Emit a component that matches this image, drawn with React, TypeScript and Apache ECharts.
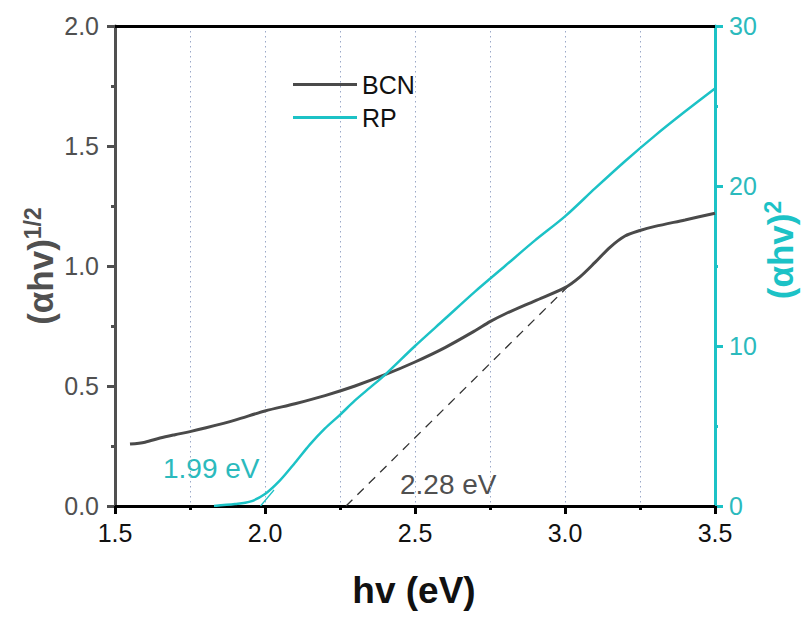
import React, { useEffect, useRef } from "react";
import * as echarts from "echarts";

const bcnEnergy = [1.55, 1.6, 1.65, 1.7, 1.75, 1.8, 1.9, 2.0, 2.1, 2.2, 2.3, 2.4, 2.5, 2.6, 2.7, 2.75, 2.8, 2.9, 3.0, 3.05, 3.1, 3.15, 3.2, 3.25, 3.3, 3.4, 3.5];
const bcnValues = [0.258, 0.266, 0.283, 0.297, 0.31, 0.325, 0.358, 0.396, 0.426, 0.46, 0.5, 0.547, 0.6, 0.66, 0.73, 0.768, 0.8, 0.855, 0.91, 0.955, 1.015, 1.078, 1.125, 1.148, 1.165, 1.192, 1.22];

const rpEnergy = [1.83, 1.9, 1.95, 2.0, 2.05, 2.1, 2.15, 2.2, 2.25, 2.3, 2.35, 2.4, 2.5, 2.6, 2.7, 2.8, 2.9, 3.0, 3.1, 3.2, 3.3, 3.4, 3.5];
const rpValues = [0, 0.12, 0.27, 0.75, 1.6, 2.7, 3.85, 4.85, 5.7, 6.6, 7.4, 8.2, 10.0, 11.7, 13.4, 15.0, 16.6, 18.1, 19.85, 21.55, 23.15, 24.65, 26.1];

const bcnTangentX = [2.27, 3.01];
const bcnTangentY = [0, 0.915];
const rpTangentX = [1.985, 2.03];
const rpTangentY = [0, 1.0];

const seriesNames = ["BCN", "RP"];
const gapLabels = ["1.99 eV", "2.28 eV"];

const CYAN = "#1cc2c6";
const CYAN_TEXT = "#2bbabd";
const GRAY = "#505050";
const GRID = "#9aa8c8";
const FONT = "'Liberation Sans', Arial, sans-serif";

export default function App() {
  const ref = useRef<HTMLDivElement>(null);
  useEffect(() => {
    document.body.style.margin = "0";
    const chart = echarts.init(ref.current!, null, { renderer: "svg" });
    const zip = (xs: number[], ys: number[]) => xs.map((x, i) => [x, ys[i]]);
    chart.setOption({
      animation: false,
      textStyle: { fontFamily: FONT },
      grid: { left: 115, right: 88, top: 26, bottom: 111 },
      legend: {
        data: seriesNames,
        orient: "vertical",
        left: 293,
        top: 72,
        padding: 0,
        icon: "rect",
        itemWidth: 64,
        itemHeight: 3,
        itemGap: 8,
        textStyle: { fontSize: 25, color: "#111", lineHeight: 25, fontFamily: FONT },
      },
      xAxis: [
        {
          type: "value",
          min: 1.5,
          max: 3.5,
          interval: 0.5,
          axisLine: { show: true, onZero: false, lineStyle: { color: "#000", width: 3 } },
          axisTick: { show: true, length: 8, lineStyle: { color: "#000", width: 3 } },
          minorTick: { show: true, splitNumber: 2, length: 4, lineStyle: { color: "#000", width: 3 } },
          axisLabel: { fontSize: 25, color: "#111", margin: 14, formatter: (v: number) => v.toFixed(1) },
          splitLine: { show: true, lineStyle: { color: GRID, type: [1.5, 3.5], width: 1 } },
          minorSplitLine: { show: true, lineStyle: { color: GRID, type: [1.5, 3.5], width: 1 } },
        },
        {
          type: "value",
          position: "top",
          min: 1.5,
          max: 3.5,
          axisLine: { show: true, onZero: false, lineStyle: { color: "#000", width: 3 } },
          axisTick: { show: false },
          axisLabel: { show: false },
          splitLine: { show: false },
        },
      ],
      yAxis: [
        {
          type: "value",
          min: 0,
          max: 2,
          interval: 0.5,
          axisLine: { show: true, onZero: false, lineStyle: { color: GRAY, width: 3 } },
          axisTick: { show: true, length: 8, lineStyle: { color: GRAY, width: 3 } },
          minorTick: { show: true, splitNumber: 2, length: 4, lineStyle: { color: GRAY, width: 3 } },
          axisLabel: { fontSize: 25, color: GRAY, margin: 16, formatter: (v: number) => v.toFixed(1) },
          splitLine: { show: false },
        },
        {
          type: "value",
          position: "right",
          min: 0,
          max: 30,
          interval: 10,
          axisLine: { show: true, onZero: false, lineStyle: { color: CYAN, width: 3 } },
          axisTick: { show: true, length: 8, lineStyle: { color: CYAN, width: 3 } },
          minorTick: { show: true, splitNumber: 2, length: 3, lineStyle: { color: CYAN, width: 3 } },
          axisLabel: { fontSize: 25, color: CYAN_TEXT, margin: 14 },
          splitLine: { show: false },
        },
      ],
      series: [
        {
          name: seriesNames[0],
          type: "line",
          xAxisIndex: 0,
          yAxisIndex: 0,
          data: zip(bcnEnergy, bcnValues),
          smooth: 0.3,
          showSymbol: false,
          symbol: "none",
          color: "#4a4a4a",
          lineStyle: { color: "#4a4a4a", width: 3 },
          z: 3,
        },
        {
          name: seriesNames[1],
          type: "line",
          xAxisIndex: 0,
          yAxisIndex: 1,
          data: zip(rpEnergy, rpValues),
          smooth: 0.3,
          showSymbol: false,
          symbol: "none",
          color: CYAN,
          lineStyle: { color: CYAN, width: 2.5 },
          z: 4,
        },
        {
          name: "BCN tangent",
          type: "line",
          xAxisIndex: 0,
          yAxisIndex: 0,
          data: zip(bcnTangentX, bcnTangentY),
          showSymbol: false,
          symbol: "none",
          lineStyle: { color: "#333", width: 1.3, type: [9, 7] },
          z: 2,
        },
        {
          name: "RP tangent",
          type: "line",
          xAxisIndex: 0,
          yAxisIndex: 1,
          data: zip(rpTangentX, rpTangentY),
          showSymbol: false,
          symbol: "none",
          lineStyle: { color: CYAN, width: 1.2 },
          z: 2,
        },
      ],
      graphic: [
        {
          type: "text",
          x: 40,
          y: 266,
          rotation: Math.PI / 2,
          style: {
            text: "{a|(αhv)}{b|1/2}",
            align: "center",
            verticalAlign: "middle",
            rich: {
              a: { fontSize: 35, fontWeight: "bold", fill: GRAY, fontFamily: FONT },
              b: { fontSize: 23, fontWeight: "bold", fill: GRAY, fontFamily: FONT, padding: [0, 0, 14, 0] },
            },
          },
        },
        {
          type: "text",
          x: 780,
          y: 250,
          rotation: Math.PI / 2,
          style: {
            text: "{a|(αhv)}{b|2}",
            align: "center",
            verticalAlign: "middle",
            rich: {
              a: { fontSize: 35, fontWeight: "bold", fill: CYAN, fontFamily: FONT },
              b: { fontSize: 23, fontWeight: "bold", fill: CYAN, fontFamily: FONT, padding: [0, 0, 14, 0] },
            },
          },
        },
        {
          type: "text",
          x: 414,
          y: 590,
          style: {
            text: "hv (eV)",
            align: "center",
            verticalAlign: "middle",
            fontSize: 37,
            fontWeight: "bold",
            fill: "#111",
            fontFamily: FONT,
          },
        },
        {
          type: "text",
          x: 163,
          y: 468,
          style: { text: gapLabels[0], align: "left", verticalAlign: "middle", fontSize: 28, fill: CYAN_TEXT, fontFamily: FONT },
        },
        {
          type: "text",
          x: 400,
          y: 484,
          style: { text: gapLabels[1], align: "left", verticalAlign: "middle", fontSize: 28, fill: GRAY, fontFamily: FONT },
        },
      ],
    });
    return () => chart.dispose();
  }, []);
  return <div ref={ref} style={{ width: 803, height: 617 }} />;
}
